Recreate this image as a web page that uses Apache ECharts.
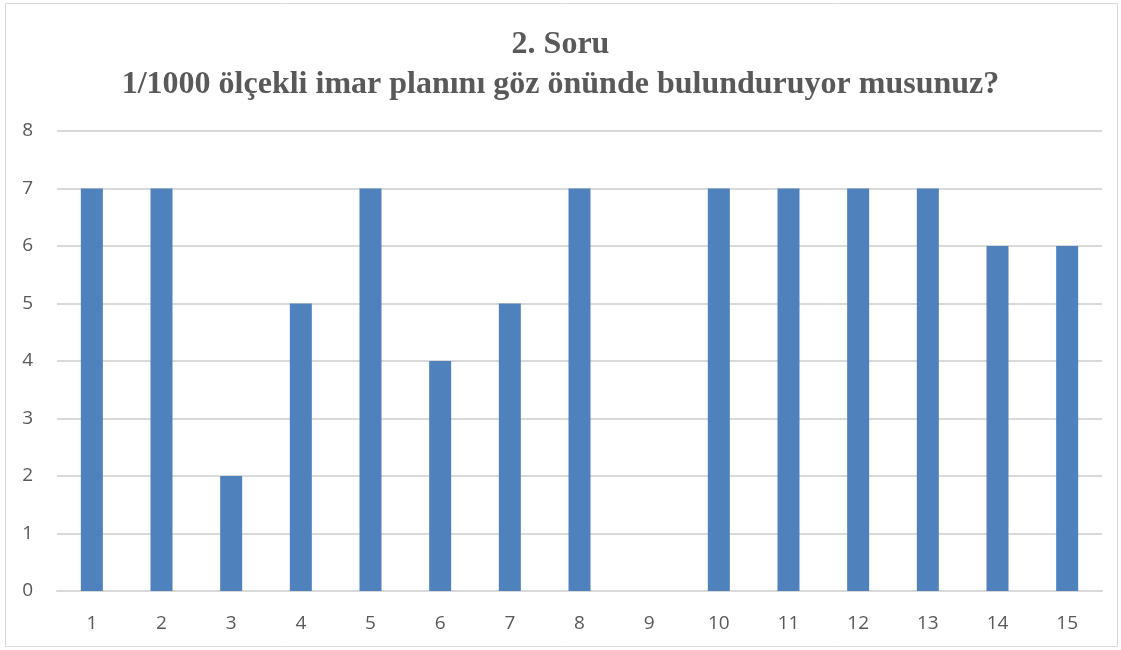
<!DOCTYPE html>
<html>
<head>
<meta charset="utf-8">
<script src="https://cdn.jsdelivr.net/npm/echarts@6/dist/echarts.min.js"></script>
<style>
  html, body { margin: 0; padding: 0; background: #fff; }
  #chart { width: 1121px; height: 650px; }
</style>
</head>
<body>
<div id="chart"></div>
<script>
const titleLines = ['2. Soru', '1/1000 ölçekli imar planını göz önünde bulunduruyor musunuz?'];
const categories = ['1', '2', '3', '4', '5', '6', '7', '8', '9', '10', '11', '12', '13', '14', '15'];
const values = [7, 7, 2, 5, 7, 4, 5, 7, 0, 7, 7, 7, 7, 6, 6];

const chart = echarts.init(document.getElementById('chart'));

// çerçeve
chart.setOption({
  backgroundColor: '#ffffff',
  animation: false,
  graphic: [
    {
      type: 'rect',
      shape: { x: 5.5, y: 3.5, width: 1112, height: 643 },
      style: { fill: 'none', stroke: '#d9d9d9', lineWidth: 1 },
      silent: true,
    },
  ],
  title: {
    text: titleLines.join('\n'),
    left: 'center',
    top: 20,
    textStyle: {
      fontFamily: 'Liberation Serif',
      fontWeight: 'bold',
      fontSize: 32,
      lineHeight: 40,
      color: '#595959',
    },
  },
  grid: { left: 57, right: 19, top: 131, bottom: 59 },
  xAxis: {
    type: 'category',
    data: categories,
    axisLine: { show: true, lineStyle: { color: '#d9d9d9', width: 2 } },
    axisTick: { show: false },
    axisLabel: { color: '#595959', fontSize: 19, fontFamily: 'Open Sans', margin: 23 },
  },
  yAxis: {
    type: 'value',
    min: 0,
    max: 8,
    interval: 1,
    axisLine: { show: false },
    axisTick: { show: false },
    axisLabel: { color: '#595959', fontSize: 19, fontFamily: 'Open Sans', margin: 24 },
    splitLine: { lineStyle: { color: '#d9d9d9', width: 2 } },
  },
  series: [
    {
      type: 'bar',
      data: values,
      barWidth: 22,
      itemStyle: { color: '#4f81bd' },
    },
  ],
});
</script>
</body>
</html>
